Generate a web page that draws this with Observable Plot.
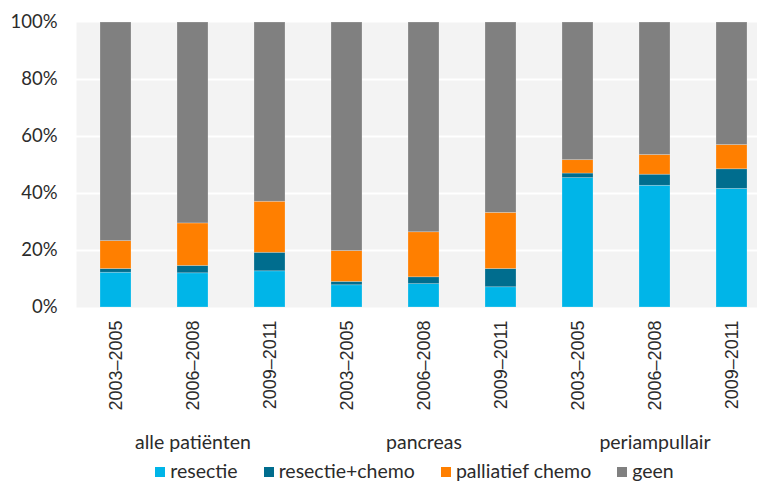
<!DOCTYPE html>
<html>
<head>
<meta charset="utf-8">
<script src="https://cdn.jsdelivr.net/npm/d3@7"></script>
<script src="https://cdn.jsdelivr.net/npm/@observablehq/plot@0.6"></script>
<style>
  html, body { margin: 0; padding: 0; background: #fff; }
  #chart { width: 757px; overflow: hidden; }
  .legend { display: flex; justify-content: center; align-items: center; padding-left: 72px; height: 26px; margin-top: 2px;
    font-family: Lato, "Open Sans", sans-serif; font-size: 19.5px; color: #2b2b2b; }
  .legend .item { display: flex; align-items: center; margin: 0 13px; }
  .legend .sw { width: 10px; height: 10px; margin-right: 5px; margin-top: 3px; }
</style>
</head>
<body>
<div id="chart"></div>
<script>
const groups = ["alle patiënten", "pancreas", "periampullair"];
const periods = ["2003–2005", "2006–2008", "2009–2011"];
const categories = ["resectie", "resectie+chemo", "palliatief chemo", "geen"];
const colors = ["#00b5e8", "#006d8e", "#ff7f00", "#808080"];
// values per bar, in order: groups x periods
const resectie       = [12.2, 12.0, 12.7, 7.8, 8.2, 7.1, 45.4, 42.7, 41.6];
const resectieChemo  = [1.3, 2.6, 6.5, 1.2, 2.4, 6.4, 1.6, 3.9, 6.9];
const palliatiefChemo= [9.8, 14.9, 17.9, 10.8, 15.8, 19.7, 4.7, 6.9, 8.5];
const yTicks = [0, 20, 40, 60, 80, 100];

const keys = [];
const data = [];
groups.forEach((g, gi) => periods.forEach((p, pi) => {
  const i = gi * periods.length + pi;
  const key = g + "|" + p;
  keys.push(key);
  const vals = [resectie[i], resectieChemo[i], palliatiefChemo[i]];
  vals.push(100 - vals[0] - vals[1] - vals[2]);
  categories.forEach((c, ci) => data.push({key, category: c, value: vals[ci]}));
}));
const groupLabels = groups.map(g => ({key: g + "|" + periods[1], label: g}));

const chart = Plot.plot({
  width: 757,
  height: 455,
  marginTop: 22,
  marginLeft: 76,
  marginRight: 0,
  marginBottom: 148,
  style: {background: "white", color: "#2b2b2b", overflow: "visible"},
  x: {domain: keys, range: [76, 771], paddingInner: 0.6, paddingOuter: 0.3, axis: null},
  y: {domain: [0, 100], axis: null},
  color: {domain: categories, range: colors},
  marks: [
    Plot.frame({fill: "#f3f3f3", stroke: "none"}),
    Plot.gridY({ticks: [20, 40, 60, 80], stroke: "white", strokeOpacity: 1, strokeWidth: 2}),
    Plot.barY(data, {x: "key", y: "value", fill: "category", stroke: "white", strokeOpacity: 0.3, strokeWidth: 0.75}),
    Plot.axisY({ticks: yTicks, tickSize: 0, tickPadding: 19, tickFormat: d => d + "%", label: null,
      fontSize: 18.5, fontFamily: "Lato, 'Open Sans', sans-serif"}),
    Plot.axisX({tickSize: 0, tickPadding: 13, tickRotate: -90, label: null, tickFormat: d => d.split("|")[1],
      fontSize: 18, fontFamily: "'Liberation Sans', Arial, sans-serif"}),
    Plot.text(groupLabels, {x: "key", y: () => 0, text: "label", dy: 141, lineAnchor: "bottom",
      fontSize: 19.5, fontFamily: "Lato, 'Open Sans', sans-serif", fill: "#2b2b2b", clip: false})
  ]
});
document.getElementById("chart").appendChild(chart);

const legend = document.createElement("div");
legend.className = "legend";
categories.forEach((c, i) => {
  const item = document.createElement("div");
  item.className = "item";
  const sw = document.createElement("span");
  sw.className = "sw";
  sw.style.background = colors[i];
  const t = document.createElement("span");
  t.textContent = c;
  item.appendChild(sw);
  item.appendChild(t);
  legend.appendChild(item);
});
document.getElementById("chart").appendChild(legend);
</script>
</body>
</html>
